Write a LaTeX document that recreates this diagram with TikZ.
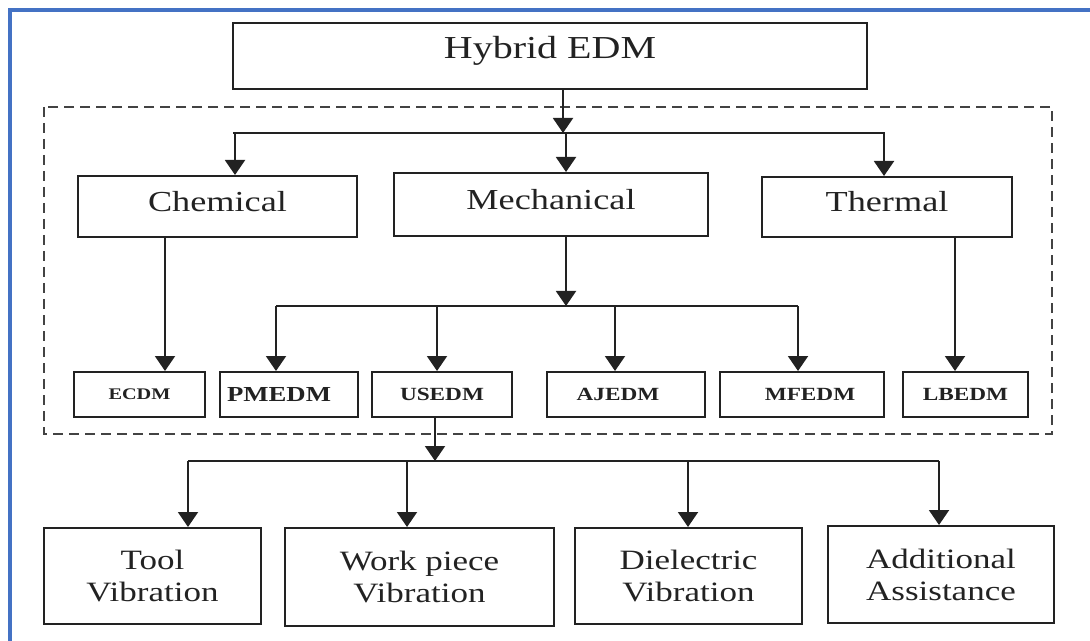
\documentclass[tikz,border=0pt]{standalone}
\usepackage{fontspec}
\setmainfont{Liberation Serif}[FakeStretch=1.25]
\usetikzlibrary{arrows.meta}
\definecolor{frameblue}{HTML}{4472C4}
\definecolor{ink}{HTML}{222222}

\begin{document}
\begin{tikzpicture}[x=0.5pt,y=-0.5pt,
    box/.style={draw=ink,line width=1pt,text=ink,inner sep=0pt},
    bigbox/.style={box,font=\fontsize{14.5}{17}\selectfont,text height=10pt,text depth=5.4pt},
    smallbox/.style={box,minimum height=22.5pt,font=\bfseries\fontsize{9.3}{11}\selectfont},
    lowbox/.style={box,align=center,font=\fontsize{14}{16}\selectfont},
    link/.style={draw=ink,line width=1pt},
    arr/.style={link,-{Triangle[width=10pt,length=7.5pt]}}]
  \useasboundingbox (0,0) rectangle (1090,641);
  \draw[frameblue,line width=2pt] (10,641) -- (10,10) -- (1090,10);

  \node[box,minimum width=317pt,minimum height=33pt,font=\fontsize{16}{19}\selectfont,
        text height=11pt,text depth=8.4pt] (hybrid) at (550,56) {Hybrid EDM};
  \draw[ink!85,line width=1pt,dash pattern=on 5pt off 3pt] (44,107) rectangle (1052,434);

  \node[bigbox,minimum width=139.5pt,minimum height=30.5pt] (chem) at (217.5,206.5) {Chemical};
  \node[bigbox,minimum width=157pt,minimum height=31.5pt] (mech) at (551,204.5) {Mechanical};
  \node[bigbox,minimum width=125pt,minimum height=30pt] (therm) at (887,207) {Thermal};

  \node[smallbox,minimum width=65.5pt,font=\bfseries\fontsize{8.1}{10}\selectfont] (ecdm) at (139.5,394.5) {ECDM};
  \node[smallbox,minimum width=69pt,font=\bfseries\fontsize{10.7}{12}\selectfont] (pmedm) at (289,394.5) {PMEDM\hspace*{10pt}};
  \node[smallbox,minimum width=70pt] (usedm) at (442,394.5) {USEDM};
  \node[smallbox,minimum width=79pt] (ajedm) at (626,394.5) {AJEDM\hspace*{8pt}};
  \node[smallbox,minimum width=82pt] (mfedm) at (802,394.5) {\hspace*{8pt}MFEDM};
  \node[smallbox,minimum width=62.5pt] (lbedm) at (965.5,394.5) {LBEDM};

  \node[lowbox,minimum width=108.5pt,minimum height=48pt] (tool) at (152.5,576) {Tool\\Vibration};
  \node[lowbox,minimum width=134.5pt,minimum height=49pt] (work) at (419.5,577) {Work piece\\Vibration};
  \node[lowbox,minimum width=113.5pt,minimum height=48pt] (diel) at (688.5,576) {Dielectric\\Vibration};
  \node[lowbox,minimum width=113pt,minimum height=48.5pt] (addl) at (941,574.5) {Additional\\Assistance};

  \coordinate (j1) at (563,133);
  \coordinate (j1l) at (233,133);
  \coordinate (j1r) at (885,133);
  \draw[arr] (hybrid.south -| j1) -- (j1);
  \draw[link] (j1l) -- (j1r);
  \foreach \x/\n in {235/chem,566/mech,884/therm}{%
    \coordinate (k) at (\x,133);
    \draw[arr] (k) -- (k |- \n.north);
  }

  \coordinate (c1) at (165,300);
  \draw[arr] (chem.south -| c1) -- (ecdm.north -| c1);
  \coordinate (t1) at (955,300);
  \draw[arr] (therm.south -| t1) -- (lbedm.north -| t1);

  \coordinate (j2) at (566,306);
  \coordinate (j2l) at (276,306);
  \coordinate (j2r) at (798,306);
  \draw[arr] (mech.south -| j2) -- (j2);
  \draw[link] (j2l) -- (j2r);
  \foreach \x/\n in {276/pmedm,437/usedm,615/ajedm,798/mfedm}{%
    \coordinate (k) at (\x,306);
    \draw[arr] (k) -- (k |- \n.north);
  }

  \coordinate (j3) at (435,461);
  \coordinate (j3l) at (188,461);
  \coordinate (j3r) at (939,461);
  \draw[arr] (usedm.south -| j3) -- (j3);
  \draw[link] (j3l) -- (j3r);
  \foreach \x/\n in {188/tool,407/work,688/diel,939/addl}{%
    \coordinate (k) at (\x,461);
    \draw[arr] (k) -- (k |- \n.north);
  }
\end{tikzpicture}
\end{document}
